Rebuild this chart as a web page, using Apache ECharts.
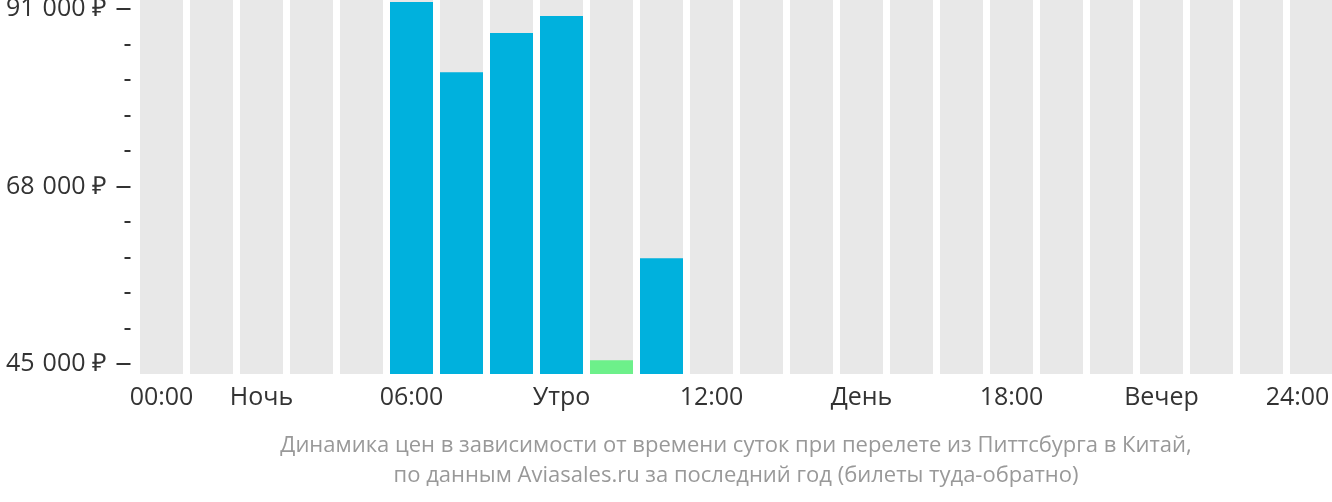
<!DOCTYPE html>
<html><head><meta charset="utf-8">
<script src="https://cdn.jsdelivr.net/npm/echarts@6/dist/echarts.min.js"></script>
<style>html,body{margin:0;padding:0;background:#fff}#c{width:1332px;height:502px}</style>
</head><body><div id="c"></div>
<script>
const hours = ['00','01','02','03','04','05','06','07','08','09','10','11','12','13','14','15','16','17','18','19','20','21','22','23'];
const hourLabels = ['00:00','','Ночь','','','06:00','','','Утро','','','12:00','','','День','','','18:00','','','Вечер','','','24:00'];
const prices = [null,null,null,null,null,91900,82800,87900,90100,45500,58700,null,null,null,null,null,null,null,null,null,null,null,null,null];
const cheapestHour = 9;
const yTicks = [45000, 68000, 91000];
const subtitle = ['Динамика цен в зависимости от времени суток при перелете из Питтсбурга в Китай,', 'по данным Aviasales.ru за последний год (билеты туда-обратно)'];

const BLUE = '#00b1dd', GREEN = '#6df08a', GREY = '#e8e8e8';
// pixel geometry: 91000 at y=9, 45000 at y=364; data grid spans y=0..374
const pxPerUnit = (364 - 9) / (yTicks[2] - yTicks[0]);
const dataMin = yTicks[0] - 10 / pxPerUnit;
const dataMax = yTicks[2] + 9 / pxPerUnit;

const chart = echarts.init(document.getElementById('c'), null, {renderer: 'canvas'});
const font = "'Open Sans', sans-serif";
const lbl = {fontSize: 25, color: '#333', fontFamily: font};
chart.setOption({
  animation: false,
  grid: [
    {left: 136.5, width: 1200, top: 0, height: 374, outerBoundsMode: 'none', containLabel: false},
    {left: 136.5, width: 1200, top: 9, height: 355, outerBoundsMode: 'none', containLabel: false}
  ],
  xAxis: [
    {type: 'category', gridIndex: 0, data: hours,
     axisLine: {show: false}, axisTick: {show: false},
     axisLabel: Object.assign({interval: 0, margin: 11,
       formatter: (v, i) => i === 23 ? '{r|' + hourLabels[i] + '}' : hourLabels[i],
       rich: {r: Object.assign({padding: [0, 28, 0, 0]}, lbl)}}, lbl)},
    {type: 'category', gridIndex: 1, data: hours, show: false}
  ],
  yAxis: [
    {type: 'value', gridIndex: 0, min: dataMin, max: dataMax, show: false},
    {type: 'value', gridIndex: 1, min: yTicks[0], max: yTicks[2], interval: yTicks[1] - yTicks[0],
     offset: 6,
     axisLine: {show: false},
     axisTick: {show: true, length: 14, lineStyle: {color: '#333', width: 2}},
     minorTick: {show: true, splitNumber: 5, length: 6, lineStyle: {color: '#333', width: 2}},
     splitLine: {show: false},
     axisLabel: Object.assign({margin: 24,
       formatter: v => {
         const th = Math.floor(v / 1000), rest = String(v % 1000).padStart(3, '0');
         return '{a|' + th + '}{b|' + rest + '}{c|₽}';
       },
       rich: {
         a: Object.assign({}, lbl),
         b: Object.assign({padding: [0, 0, 0, 8]}, lbl),
         c: Object.assign({padding: [0, 0, 0, 6]}, lbl)
       }}, lbl)}
  ],
  title: {
    text: subtitle.join('\n'),
    left: 731, top: 426, textAlign: 'center',
    textStyle: {fontSize: 22, fontWeight: 'normal', color: '#999', fontFamily: font, lineHeight: 30}
  },
  series: [
    {type: 'bar', xAxisIndex: 0, yAxisIndex: 0, data: hours.map(() => dataMax),
     barCategoryGap: '14%', itemStyle: {color: GREY}, silent: true, z: 1},
    {type: 'bar', xAxisIndex: 0, yAxisIndex: 0, barGap: '-100%', barCategoryGap: '14%', z: 2,
     data: prices.map((v, i) => ({value: v, itemStyle: {color: i === cheapestHour ? GREEN : BLUE}}))}
  ]
});
</script></body></html>
